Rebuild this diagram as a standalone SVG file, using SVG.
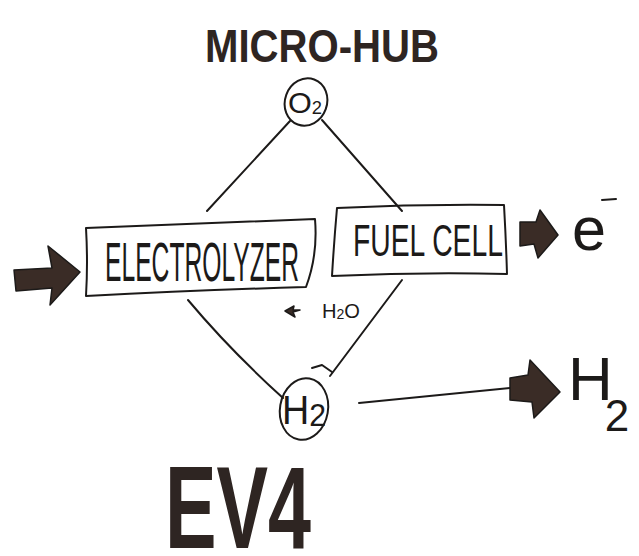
<svg xmlns="http://www.w3.org/2000/svg" width="639" height="556" viewBox="0 0 639 556">
<style>
.ln{fill:none;stroke:#1c1a19;stroke-width:2;stroke-linecap:round;stroke-linejoin:round}
.hand{font-family:"Liberation Sans",Arial,sans-serif;fill:#1c1a19}
.heavy{font-family:"Liberation Sans",Arial,sans-serif;font-weight:bold;fill:#2e2522}
.arrow{fill:#3a2c26;stroke:#1c1a19;stroke-width:1.5;stroke-linejoin:round}
</style>
<rect width="639" height="556" fill="#ffffff"/>
<g id="title">
<text class="heavy" x="322" y="62" font-size="46" text-anchor="middle" textLength="234" lengthAdjust="spacingAndGlyphs">MICRO-HUB</text>
</g>
<g id="connectors">
<path class="ln" d="M290 121 L207 211"/>
<path class="ln" d="M322 120 L402 211"/>
<path class="ln" d="M188 300 Q230 350 283 398"/>
<path class="ln" d="M402 280 L330 376"/>
<path class="ln" d="M312 368 L322 365 L332 372"/>
<path class="ln" d="M359 403 Q440 395 510 388"/>
</g>
<g id="o2">
<ellipse class="ln" cx="306" cy="102" rx="21" ry="24" transform="rotate(20 306 102)"/>
<text class="hand" x="305" y="113" font-size="30" text-anchor="middle" textLength="34" lengthAdjust="spacingAndGlyphs">O<tspan font-size="18" dy="1">2</tspan></text>
</g>
<g id="electrolyzer">
<path class="ln" d="M86 228 Q88 262 86 296 Q200 290 306 287 Q318 255 315 219 Q200 224 86 228 Z"/>
<text class="hand" x="202" y="281" font-size="55" text-anchor="middle" textLength="194" lengthAdjust="spacingAndGlyphs">ELECTROLYZER</text>
</g>
<g id="fuelcell">
<path class="ln" d="M337 208 Q420 204 504 205 Q506 240 507 274 Q420 272 332 276 Q334 242 337 208 Z"/>
<text class="hand" x="428" y="256" font-size="44" text-anchor="middle" textLength="150" lengthAdjust="spacingAndGlyphs">FUEL CELL</text>
</g>
<g id="input-arrow">
<path class="arrow" d="M14 270 L52 268 L48 246 L80 272 L50 305 L52 288 L16 291 Z"/>
</g>
<g id="electrons">
<path class="arrow" d="M520 222 L536 222 L540 210 L558 235 L538 258 L534 244 L520 246 Z"/>
<text class="hand" x="572" y="250" font-size="62" textLength="34" lengthAdjust="spacingAndGlyphs">e</text>
<path class="ln" d="M602 200 L616 199"/>
</g>
<g id="water">
<path class="arrow" d="M285 311 L294 306 L293 310 L300 310 L293 312 L295 317 Z"/>
<text class="hand" x="322" y="318" font-size="20" textLength="38" lengthAdjust="spacingAndGlyphs">H<tspan font-size="14" dy="1">2</tspan><tspan dy="-1">O</tspan></text>
</g>
<g id="h2">
<ellipse class="ln" cx="304" cy="409" rx="24" ry="31" transform="rotate(10 304 409)"/>
<text class="hand" x="304" y="424" font-size="40" text-anchor="middle" textLength="44" lengthAdjust="spacingAndGlyphs">H<tspan font-size="32" dy="2">2</tspan></text>
</g>
<g id="h2-output">
<path class="arrow" d="M510 378 L528 375 L530 360 L560 392 L534 418 L532 402 L510 400 Z"/>
<text class="hand" x="568" y="400" font-size="62">H<tspan font-size="44" dy="31" dx="-8">2</tspan></text>
</g>
<g id="ev4">
<text class="heavy" x="238" y="548" font-size="116" text-anchor="middle" textLength="146" lengthAdjust="spacingAndGlyphs">EV4</text>
</g>
</svg>
